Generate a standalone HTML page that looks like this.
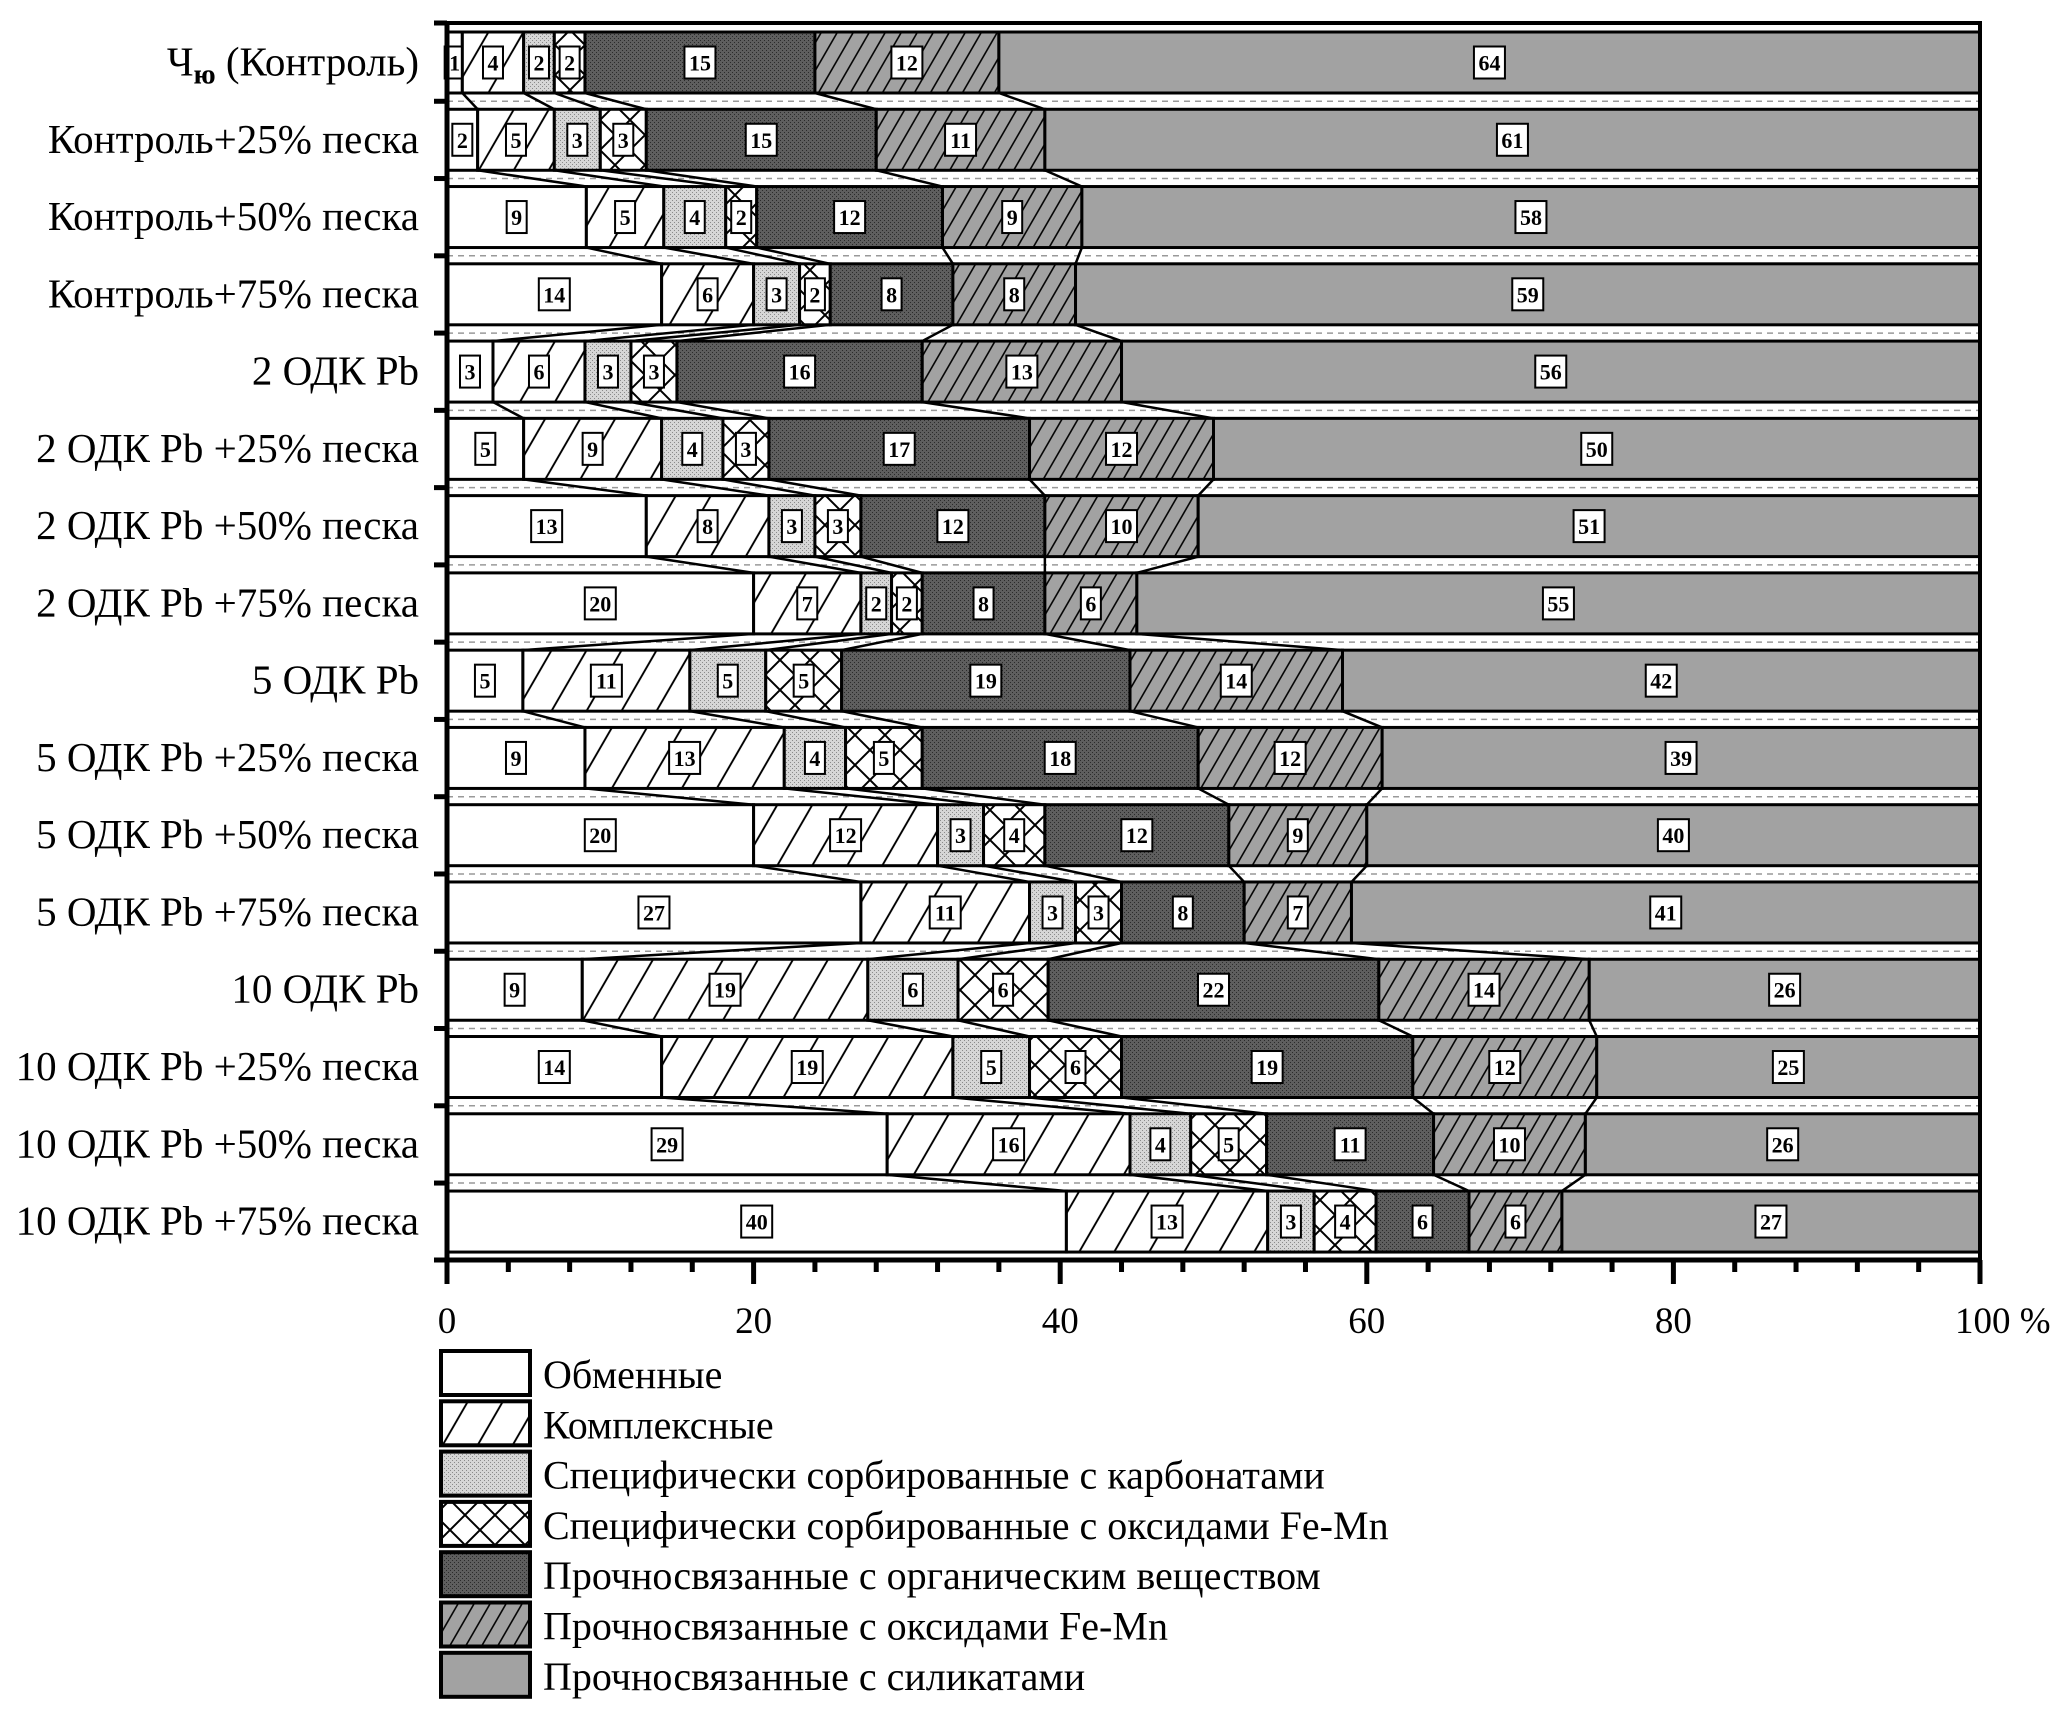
<!DOCTYPE html>
<html><head><meta charset="utf-8">
<style>
html,body{margin:0;padding:0;background:#fff;}
svg{display:block;}
text{font-family:"Liberation Serif",serif;}
</style></head>
<body>
<svg id="chart" width="2067" height="1723" viewBox="0 0 2067 1723" xmlns="http://www.w3.org/2000/svg">
<defs>
  <pattern id="p-hatch" patternUnits="userSpaceOnUse" width="35" height="60" patternTransform="skewX(-30)">
    <rect width="35" height="60" fill="#fff"/>
    <line x1="17" y1="0" x2="17" y2="60" stroke="#000" stroke-width="2.2"/>
  </pattern>
  <pattern id="p-carb" patternUnits="userSpaceOnUse" width="4" height="4">
    <rect width="4" height="4" fill="#d6d6d6"/>
    <rect width="1" height="1" fill="#8a8a8a"/><rect x="2" y="2" width="1" height="1" fill="#8a8a8a"/>
  </pattern>
  <pattern id="p-cross" patternUnits="userSpaceOnUse" width="30" height="30">
    <rect width="30" height="30" fill="#fff"/>
    <path d="M0 0 L30 30 M30 0 L0 30" stroke="#000" stroke-width="2"/>
  </pattern>
  <pattern id="p-org" patternUnits="userSpaceOnUse" width="4" height="4">
    <rect width="4" height="4" fill="#5e5e5e"/>
    <rect width="1" height="1" fill="#2a2a2a"/><rect x="2" y="2" width="1" height="1" fill="#2a2a2a"/>
  </pattern>
  <pattern id="p-feox" patternUnits="userSpaceOnUse" width="16" height="60" patternTransform="skewX(-30)">
    <rect width="16" height="60" fill="#a2a2a2"/>
    <line x1="8" y1="0" x2="8" y2="60" stroke="#000" stroke-width="1.8"/>
  </pattern>
</defs>
<g id="layer"></g>
</svg>
<script>
const categories = ["Ч|ю| (Контроль)","Контроль+25% песка","Контроль+50% песка","Контроль+75% песка","2 ОДК Pb","2 ОДК Pb +25% песка","2 ОДК Pb +50% песка","2 ОДК Pb +75% песка","5 ОДК Pb","5 ОДК Pb +25% песка","5 ОДК Pb +50% песка","5 ОДК Pb +75% песка","10 ОДК Pb","10 ОДК Pb +25% песка","10 ОДК Pb +50% песка","10 ОДК Pb +75% песка"];
const exchangeable = [1,2,9,14,3,5,13,20,5,9,20,27,9,14,29,40];
const complexed    = [4,5,5,6,6,9,8,7,11,13,12,11,19,19,16,13];
const carbonates   = [2,3,4,3,3,4,3,2,5,4,3,3,6,5,4,3];
const feMnSorbed   = [2,3,2,2,3,3,3,2,5,5,4,3,6,6,5,4];
const organic      = [15,15,12,8,16,17,12,8,19,18,12,8,22,19,11,6];
const feMnOxides   = [12,11,9,8,13,12,10,6,14,12,9,7,14,12,10,6];
const silicates    = [64,61,58,59,56,50,51,55,42,39,40,41,26,25,26,27];
const seriesNames = ["Обменные","Комплексные","Специфически сорбированные с карбонатами","Специфически сорбированные с оксидами Fe-Mn","Прочносвязанные с органическим веществом","Прочносвязанные с оксидами Fe-Mn","Прочносвязанные с силикатами"];
const xTicks = [0,20,40,60,80,100];

const series = [exchangeable,complexed,carbonates,feMnSorbed,organic,feMnOxides,silicates];
const fills = ["#fff","url(#p-hatch)","url(#p-carb)","url(#p-cross)","url(#p-org)","url(#p-feox)","#a2a2a2"];
const keys = ["exchangeable","complexed","carbonates","fe-mn-sorbed","organic","fe-mn-oxides","silicates"];
const NS="http://www.w3.org/2000/svg";
const L=document.getElementById('layer');
const X0=447,X1=1980,TOP=32,PER=77.27,BH=61;
const xs=v=>X0+(X1-X0)*v/100;
const yt=i=>TOP+i*PER;
function mk(t,a,p){const e=document.createElementNS(NS,t);for(const k in a)e.setAttribute(k,a[k]);(p||L).appendChild(e);return e;}

const cums=categories.map((c,i)=>{let s=0;series.forEach(a=>s+=a[i]);let acc=0;const r=[0];series.forEach(a=>{acc+=a[i]/s*100;r.push(acc);});return r;});

for(let i=0;i<categories.length;i++){
  if(i>0){const yd=yt(i)-8;
    const d=mk('line',{x1:X0,y1:yd,x2:X1,y2:yd,stroke:'#999','stroke-width':1.5,'stroke-dasharray':'6 5'});
    
    
    const t=mk('line',{x1:X0-13,y1:yd,x2:X0,y2:yd,stroke:'#000','stroke-width':5});
    
    }
}
categories.forEach((c,i)=>{
  const g=mk('g',{});
  
  
  const y=yt(i);
  for(let s=0;s<7;s++){
    const xa=xs(cums[i][s]),xb=xs(cums[i][s+1]);
    const r=mk('rect',{x:xa,y:y,width:Math.max(0,xb-xa),height:BH,fill:fills[s],stroke:'#000','stroke-width':3},g);
    
    
    const v=series[s][i];const cx=(xa+xb)/2,cy=y+BH/2;
    const w=String(v).length>1?31:20;
    const b=mk('rect',{x:cx-w/2,y:cy-16,width:w,height:32,fill:'#fff',stroke:'#000','stroke-width':2},g);
    
    
    const tx=mk('text',{x:cx,y:cy+8,'text-anchor':'middle','font-size':22,'font-weight':'bold'},g);
    tx.textContent=v;
    
    
  }
  const lab=mk('text',{x:419,y:y+BH/2+13,'text-anchor':'end','font-size':41});
  
  
  if(c.indexOf('|')>=0){const p=c.split('|');
    const a=mk('tspan',{},lab);a.textContent=p[0];
    const b2=mk('tspan',{'font-size':29,'font-weight':'bold',dy:8},lab);b2.textContent=p[1];
    const d2=mk('tspan',{dy:-8},lab);d2.textContent=p[2];}
  else lab.textContent=c;
});
for(let i=0;i<categories.length-1;i++){
  for(let s=1;s<7;s++){
    const l=mk('line',{x1:xs(cums[i][s]),y1:yt(i)+BH,x2:xs(cums[i+1][s]),y2:yt(i+1),stroke:'#000','stroke-width':2.5});
    
    
  }
}
const fr=[[X0,23,X1+2,23,4],[X1,21,X1,1262,4],[X0-13,1260,X1+2,1260,5],[X0,21,X0,1262,5],[X0-13,23,X0,23,5]];
fr.forEach(f=>{const l=mk('line',{x1:f[0],y1:f[1],x2:f[2],y2:f[3],stroke:'#000','stroke-width':f[4]});
  
  });
for(let v=0;v<=100;v+=4){
  const major=v%20===0;
  const l=mk('line',{x1:xs(v),y1:1260,x2:xs(v),y2:major?1284:1272,stroke:'#000','stroke-width':5});
  
  
}
xTicks.forEach(v=>{
  const t=mk('text',{x:v===100?xs(v)-25:xs(v),y:1333,'text-anchor':v===100?'start':'middle','font-size':37});
  t.textContent=v===100?'100 %':String(v);
  
  
});
seriesNames.forEach((n,s)=>{
  const y=1351+s*50.3;
  const g=mk('g',{});
  
  
  const r=mk('rect',{x:441,y:y,width:89,height:44,fill:fills[s],stroke:'#000','stroke-width':4},g);
  
  
  const t=mk('text',{x:543,y:y+37,'font-size':40},g);
  t.textContent=n;
  
  
});
</script>
</body></html>
